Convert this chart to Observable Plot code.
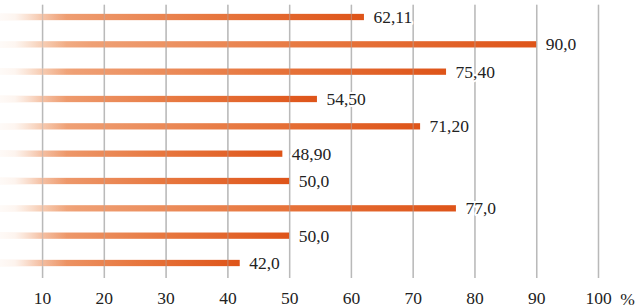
<!DOCTYPE html>
<html>
<head>
<meta charset="utf-8">
<script src="https://cdn.jsdelivr.net/npm/d3@7"></script>
<script src="https://cdn.jsdelivr.net/npm/@observablehq/plot@0.6"></script>
<style>
  html, body { margin: 0; padding: 0; background: #fff; }
  #chart { width: 638px; height: 308px; overflow: hidden; }
</style>
</head>
<body>
<div id="chart"></div>
<script>
// Data (top to bottom)
const rows = [0, 1, 2, 3, 4, 5, 6, 7, 8, 9];
const values = [62.11, 90.0, 75.40, 54.50, 71.20, 48.90, 50.0, 77.0, 50.0, 42.0];
const valueLabels = ["62,11", "90,0", "75,40", "54,50", "71,20", "48,90", "50,0", "77,0", "50,0", "42,0"];
const tickValues = [10, 20, 30, 40, 50, 60, 70, 80, 90, 100];
const unitLabel = "%";

const data = rows.map((r, i) => ({row: r, value: values[i], label: valueLabels[i]}));

const serif = "'Liberation Serif', 'Times New Roman', serif";

const chart = Plot.plot({
  width: 638,
  height: 308,
  marginTop: 0,
  marginLeft: 0,
  marginRight: 0,
  marginBottom: 20,
  style: {fontFamily: serif, fontSize: "17.5px", color: "#222", background: "#fff", overflow: "visible"},
  x: {domain: [0, 100], range: [-19.7, 598], axis: null, label: null},
  y: {domain: [0, 9], range: [17, 263], axis: null, label: null},
  marks: [
    Plot.ruleX(tickValues, {x: d => d, y1: -0.45, y2: 9.55, stroke: "#c2c2c2", strokeWidth: 1.5}),
    Plot.rectX(data, {x1: 0, x2: "value", y1: d => d.row - 0.115, y2: d => d.row + 0.115, fill: "url(#barGrad)"}),
    Plot.rectX(data, {x1: 0, x2: 14, y1: d => d.row - 0.13, y2: d => d.row + 0.13, fill: "url(#fadeGrad)"}),
    Plot.ruleX(tickValues, {x: d => d, y1: -0.45, y2: 9.55, stroke: "#b0b0b0", strokeWidth: 1.2, strokeOpacity: 0.45}),
    Plot.text(data, {x: "value", y: "row", text: "label", dx: 9, textAnchor: "start", fontSize: 17.5, fill: "#222", stroke: "white", strokeWidth: 4, paintOrder: "stroke"}),
    Plot.axisX({ticks: tickValues, tickSize: 0, tickPadding: 3, fontSize: 17.5, tickFormat: d => String(d), fill: "#222", label: null}),
    Plot.text([unitLabel], {x: 104.7, y: 10.3, text: d => d, fontSize: 17.5, fill: "#222"})
  ]
});

const svg = d3.select(chart);
const defs = svg.insert("defs", ":first-child");
const g1 = defs.append("linearGradient").attr("id", "barGrad").attr("x1", "0").attr("x2", "1").attr("y1", "0").attr("y2", "0");
[["0", "#f8d2b4"], ["0.2", "#efa075"], ["0.6", "#e7773f"], ["1", "#de5419"]].forEach(([o, c]) =>
  g1.append("stop").attr("offset", o).attr("stop-color", c));
const g2 = defs.append("linearGradient").attr("id", "fadeGrad").attr("x1", "0").attr("x2", "1").attr("y1", "0").attr("y2", "0");
[["0", 1], ["0.4", 0.85], ["0.7", 0.35], ["1", 0]].forEach(([o, a]) =>
  g2.append("stop").attr("offset", o).attr("stop-color", "#ffffff").attr("stop-opacity", a));

document.getElementById("chart").appendChild(chart);
</script>
</body>
</html>
